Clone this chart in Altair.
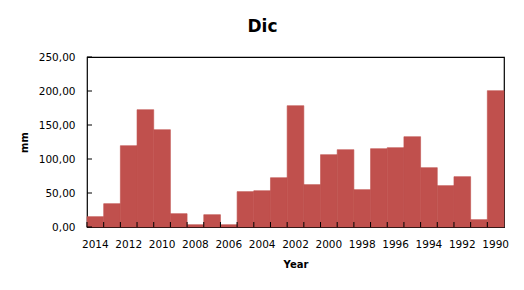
import altair as alt
import pandas as pd

years = [2014, 2013, 2012, 2011, 2010, 2009, 2008, 2007, 2006, 2005, 2004, 2003, 2002,
         2001, 2000, 1999, 1998, 1997, 1996, 1995, 1994, 1993, 1992, 1991, 1990]
values = [15.2, 34.3, 119.6, 172.5, 143.1, 19.6, 3.4, 18.1, 3.4, 52.0, 53.4, 72.5, 178.4,
          62.3, 106.4, 113.7, 54.9, 115.2, 116.7, 132.8, 87.3, 60.8, 74.0, 10.8, 200.5]
x_labels = [2014, 2012, 2010, 2008, 2006, 2004, 2002, 2000, 1998, 1996, 1994, 1992, 1990]
y_ticks = [0, 50, 100, 150, 200, 250]

df = pd.DataFrame({"year": years, "value": values})
ticks_df = pd.DataFrame({"value": y_ticks})

FONT = "DejaVu Sans"
W, H = 417, 170
order = [int(y) for y in years]

xaxis = alt.Axis(
    values=x_labels, title="Year", labelAngle=0, ticks=False, domain=False,
    labelPadding=12, labelFont=FONT, labelFontSize=10.5, labelColor="#000",
    titleFont=FONT, titleFontSize=10, titleFontWeight="bold", titleColor="#000",
    titlePadding=10,
)
yaxis = alt.Axis(
    values=y_ticks, title="mm", ticks=False, domain=False, grid=False,
    labelExpr="replace(format(datum.value, '.2f'), '.', ',')",
    labelPadding=12, labelFont=FONT, labelFontSize=10.5, labelColor="#000",
    titleFont=FONT, titleFontSize=10, titleFontWeight="bold", titleColor="#000",
    titlePadding=9,
)
xscale = alt.Scale(paddingInner=0, paddingOuter=0)
yscale = alt.Scale(domain=[0, 250], nice=False)

bars = alt.Chart(df).mark_bar(color="#C0504D", stroke="#C0504D", strokeWidth=0.6).encode(
    x=alt.X("year:O", sort=order, scale=xscale, axis=xaxis),
    y=alt.Y("value:Q", scale=yscale, axis=yaxis),
)

xticks = alt.Chart(df).mark_rule(color="#000", strokeWidth=1).encode(
    x=alt.X("year:O", sort=order, bandPosition=0, scale=xscale, axis=xaxis),
    y=alt.value(H),
    y2=alt.value(H - 5),
)

yticks = alt.Chart(ticks_df).mark_rule(color="#000", strokeWidth=1).encode(
    y=alt.Y("value:Q", scale=yscale, axis=yaxis),
    x=alt.value(0),
    x2=alt.value(5),
)

chart = alt.layer(bars, xticks, yticks).properties(
    width=W,
    height=H,
    background="white",
    title=alt.TitleParams("Dic", font=FONT, fontSize=17, fontWeight="bold", color="#000",
                          anchor="middle", offset=16, dx=-33),
    autosize=alt.AutoSizeParams(type="none"),
    padding={"left": 79, "top": 49, "right": 12, "bottom": 55},
).configure_view(stroke="#000", strokeWidth=1.2)

chart.save("out.html", embed_options={"renderer": "svg", "actions": False})
